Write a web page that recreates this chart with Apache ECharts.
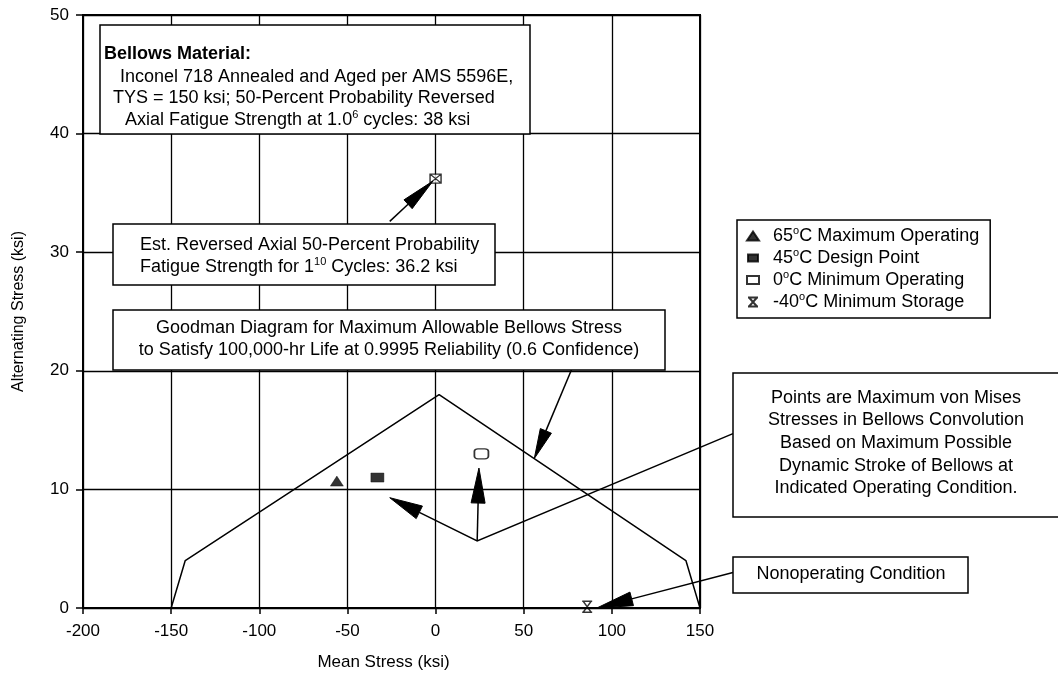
<!DOCTYPE html>
<html><head><meta charset="utf-8">
<script src="https://cdn.jsdelivr.net/npm/echarts@6/dist/echarts.min.js"></script>
<style>html,body{margin:0;padding:0;background:#fff}#c{width:1058px;height:676px}</style>
</head><body><div id="c"></div>
<script>
// ---- data ----
const xMin = -200, xMax = 150, xStep = 50;
const yMin = 0, yMax = 50, yStep = 10;
const goodmanMean = [-150, -142, 2, 142, 150];
const goodmanAlt  = [0, 4, 18, 4, 0];
const seriesNames = ['65°C Maximum Operating', '45°C Design Point', '0°C Minimum Operating', '-40°C Minimum Storage'];
const pointMean = [-56, -33, 26, 86];
const pointAlt  = [10.7, 11.0, 13.0, 0.1];
const fatigueMean = [0];
const fatigueAlt  = [36.2];

// ---- annotation layout (arrows in data units, boxes in pixels) ----
const arrows = [
  {path: [[-26, 32.6], [-1.5, 36.0]], headLen: 34, headWidth: 12},
  {path: [[168.7, 14.7], [23.6, 5.65], [-26, 9.3]], headLen: 33, headWidth: 14},
  {path: [[23.6, 5.65], [24.6, 11.8]], headLen: 35, headWidth: 14},
  {path: [[77.4, 20.2], [56, 12.6]], headLen: 30, headWidth: 12},
  {path: [[168.7, 3.0], [91.5, 0]], headLen: 36, headWidth: 14}
];
const FONT = "'Liberation Sans', Arial, Helvetica, sans-serif";
const supStyle = {fontSize: 11, lineHeight: 12, verticalAlign: 'top', fontFamily: FONT, fill: '#000', color: '#000'};

const boxes = [
  {x: 100, y: 25, w: 430, h: 109},
  {x: 113, y: 224, w: 382, h: 61},
  {x: 113, y: 310, w: 552, h: 60},
  {x: 733, y: 373, w: 340, h: 144},
  {x: 733, y: 557, w: 235, h: 36}
];
const texts = [
  {t: 'Bellows Material:', x: 104, y: 54, a: 'left', bold: true},
  {t: 'Inconel 718 Annealed and Aged per AMS 5596E,', x: 120, y: 77, a: 'left'},
  {t: 'TYS = 150 ksi; 50-Percent Probability Reversed', x: 113, y: 98, a: 'left'},
  {t: 'Axial Fatigue Strength at 1.0{sup|6} cycles: 38 ksi', x: 125, y: 120, a: 'left'},
  {t: 'Est. Reversed Axial 50-Percent Probability', x: 140, y: 245, a: 'left'},
  {t: 'Fatigue Strength for 1{sup|10} Cycles: 36.2 ksi', x: 140, y: 267, a: 'left'},
  {t: 'Goodman Diagram for Maximum Allowable Bellows Stress', x: 389, y: 328, a: 'center'},
  {t: 'to Satisfy 100,000-hr Life at 0.9995 Reliability (0.6 Confidence)', x: 389, y: 350, a: 'center'},
  {t: 'Points are Maximum von Mises', x: 896, y: 398, a: 'center'},
  {t: 'Stresses in Bellows Convolution', x: 896, y: 420, a: 'center'},
  {t: 'Based on Maximum Possible', x: 896, y: 443, a: 'center'},
  {t: 'Dynamic Stroke of Bellows at', x: 896, y: 466, a: 'center'},
  {t: 'Indicated Operating Condition.', x: 896, y: 488, a: 'center'},
  {t: 'Nonoperating Condition', x: 851, y: 574, a: 'center'}
];

const graphics = [];
boxes.forEach(b => graphics.push({
  type: 'rect', z: 100, shape: {x: b.x, y: b.y, width: b.w, height: b.h},
  style: {fill: '#fff', stroke: '#000', lineWidth: 1.5}
}));
texts.forEach(t => graphics.push({
  type: 'text', z: 101,
  style: {
    text: t.t, x: t.x, y: t.y, fill: '#000',
    fontFamily: FONT, fontSize: 18, fontWeight: t.bold ? 'bold' : 'normal',
    font: (t.bold ? 'bold ' : '') + '18px ' + FONT,
    align: t.a, textAlign: t.a, verticalAlign: 'middle', textVerticalAlign: 'middle',
    lineHeight: 22,
    rich: {sup: supStyle}
  }
}));

const symbols = ['triangle', 'rect', 'roundRect', 'path://M0,0H10M0,12H10M1,0L9,12M9,0L1,12'];
const symbolSizes = [[13, 10], [13, 9], [14, 10], [10, 11]];
const fills = ['#000', '#000', '#fff', '#000'];
const legendIcons = [
  'path://M0,0M22,11M7,1L13,10L1,10Z',
  'path://M0,0M22,11M2,2H12V9H2Z',
  'path://M0,0M22,11M1,1.5H13V9.5H1Z',
  'path://M0,0M22,11M2,1H12M2,10H12M3,1L11,10M11,1L3,10'
];

const series = [{
  type: 'line', name: 'Goodman', z: 3, symbol: 'none', silent: true,
  data: goodmanMean.map((m, i) => [m, goodmanAlt[i]]),
  lineStyle: {color: '#000', width: 1.5}
}];
seriesNames.forEach((n, i) => series.push({
  type: 'scatter', name: n, z: 5, symbol: symbols[i], symbolSize: symbolSizes[i],
  data: [[pointMean[i], pointAlt[i]]],
  itemStyle: {color: fills[i], borderColor: '#000', borderWidth: i >= 2 ? 1.5 : 0.5},
  clip: false
}));
series.push({
  type: 'scatter', name: 'fatigue', z: 5,
  symbol: 'path://M0,0H10V9H0ZM0,0L10,9M10,0L0,9', symbolSize: [11, 9],
  data: fatigueMean.map((m, i) => [m, fatigueAlt[i]]),
  itemStyle: {color: '#fff', borderColor: '#000', borderWidth: 1.3}
});
series.push({
  type: 'custom', name: 'arrows', z: 6, clip: false, silent: true,
  data: arrows.map(a => a.path[0]),
  renderItem: function (params, api) {
    const a = arrows[params.dataIndex];
    const pts = a.path.map(p => api.coord(p));
    const n = pts.length;
    const tip = pts[n - 1], prev = pts[n - 2];
    const dx = tip[0] - prev[0], dy = tip[1] - prev[1];
    const len = Math.hypot(dx, dy);
    const ux = dx / len, uy = dy / len;
    const bx = tip[0] - ux * a.headLen, by = tip[1] - uy * a.headLen;
    const hw = a.headWidth / 2;
    const l = [bx - uy * hw, by + ux * hw], r = [bx + uy * hw, by - ux * hw];
    return {type: 'group', children: [
      {type: 'polyline', shape: {points: pts.slice(0, n - 1).concat([[bx, by]])},
       style: {stroke: '#000', lineWidth: 1.5, fill: 'none'}},
      {type: 'polygon', shape: {points: [tip, l, r]},
       style: {fill: '#000', stroke: '#000', lineWidth: 1}}
    ]};
  }
});

const chart = echarts.init(document.getElementById('c'), null, {renderer: 'canvas'});
chart.setOption({
  backgroundColor: '#fff',
  animation: false,
  textStyle: {fontFamily: FONT},
  grid: {left: 83, right: 358, top: 15, bottom: 66, show: true, borderColor: '#000', borderWidth: 2, backgroundColor: '#fff'},
  xAxis: {
    type: 'value', min: xMin, max: xMax, interval: xStep,
    name: 'Mean Stress (ksi)', nameLocation: 'middle', nameGap: 46,
    nameTextStyle: {fontSize: 17, color: '#000', fontFamily: FONT, padding: [0, 16, 0, 0]},
    axisLine: {show: true, onZero: false, lineStyle: {color: '#000', width: 2}},
    axisTick: {show: true, length: 6, lineStyle: {color: '#000', width: 1.5}},
    axisLabel: {fontSize: 17, color: '#000', margin: 15, fontFamily: FONT},
    splitLine: {show: true, lineStyle: {color: '#000', width: 1.3}}
  },
  yAxis: {
    type: 'value', min: yMin, max: yMax, interval: yStep,
    name: 'Alternating Stress (ksi)', nameLocation: 'middle', nameGap: 56,
    nameTextStyle: {fontSize: 16, color: '#000', fontFamily: FONT},
    axisLine: {show: true, onZero: false, lineStyle: {color: '#000', width: 2}},
    axisTick: {show: true, length: 7, lineStyle: {color: '#000', width: 1.5}},
    axisLabel: {fontSize: 17, color: '#000', margin: 14, fontFamily: FONT},
    splitLine: {show: true, lineStyle: {color: '#000', width: 1.3}}
  },
  legend: {
    show: true, orient: 'vertical', left: 737, top: 220,
    data: seriesNames.map((n, i) => ({name: n, icon: legendIcons[i]})),
    itemWidth: 22, itemHeight: 11, itemGap: 0,
    padding: [5, 11, 5, 8],
    borderColor: '#000', borderWidth: 1.5, backgroundColor: '#fff',
    selectedMode: false,
    formatter: n => n.replace('°', '{sup|o}'),
    textStyle: {fontSize: 18, color: '#000', fontFamily: FONT, lineHeight: 22,
      rich: {sup: {fontSize: 11, lineHeight: 12, verticalAlign: 'top', color: '#000', fontFamily: FONT}}}
  },
  graphic: graphics,
  series: series
});
</script></body></html>
